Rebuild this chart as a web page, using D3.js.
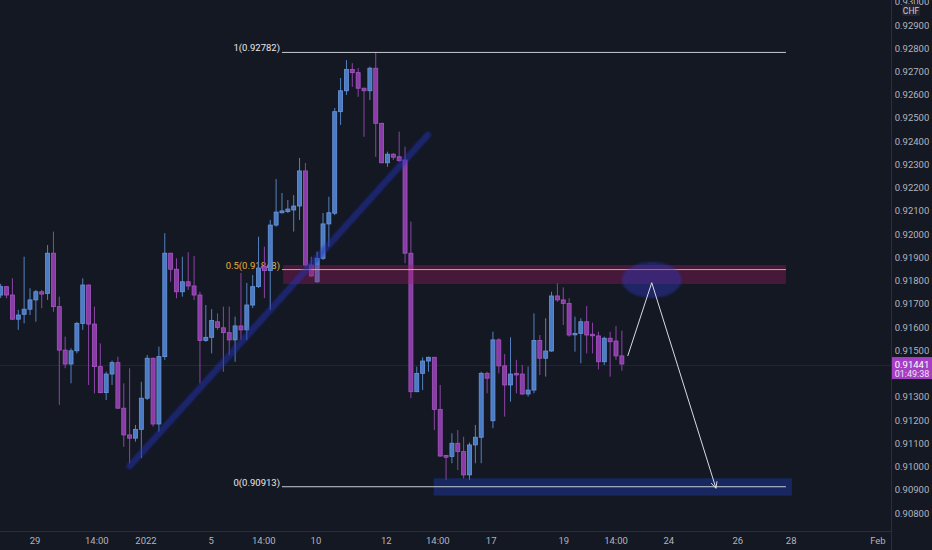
<!DOCTYPE html>
<html>
<head>
<meta charset="utf-8">
<script src="https://cdn.jsdelivr.net/npm/d3@7"></script>
<style>
  html, body { margin: 0; padding: 0; background: #141823; }
  svg { display: block; }
  text { font-family: Roboto, "Noto Sans", sans-serif; }
</style>
</head>
<body>
<div id="chart"></div>
<script>
// USDCHF 4h candles
var open = [0.91738,0.91774,0.91738,0.91634,0.91655,0.91677,0.91717,0.91752,0.91745,0.91918,
  0.91688,0.91501,0.91441,0.91498,0.91616,0.91781,0.91613,0.91430,0.91318,0.91398,
  0.91447,0.91251,0.91136,0.91122,0.91160,0.91294,0.91466,0.91183,0.91473,0.91918,
  0.91849,0.91752,0.91795,0.91777,0.91738,0.91542,0.91556,0.91623,0.91597,0.91576,
  0.91545,0.91605,0.91588,0.91695,0.91774,0.91860,0.91843,0.92039,0.92092,0.92097,
  0.92104,0.92121,0.92272,0.91867,0.91795,0.91896,0.92044,0.92090,0.92527,0.92617,
  0.92709,0.92695,0.92628,0.92617,0.92714,0.92477,0.92307,0.92344,0.92333,0.92319,
  0.91918,0.91322,0.91401,0.91454,0.91470,0.91246,0.91048,0.91043,0.91100,0.91064,
  0.90964,0.91093,0.91126,0.91401,0.91197,0.91545,0.91433,0.91351,0.91401,0.91398,
  0.91312,0.91329,0.91542,0.91466,0.91497,0.91734,0.91717,0.91702,0.91567,0.91573,
  0.91623,0.91569,0.91562,0.91451,0.91552,0.91540,0.91476];
var high = [0.91786,0.91776,0.91810,0.91674,0.91903,0.91767,0.91760,0.91760,0.91953,0.92011,
  0.91731,0.91559,0.91509,0.91623,0.91810,0.91783,0.91688,0.91530,0.91408,0.91456,
  0.91473,0.91358,0.91423,0.91179,0.91365,0.91480,0.91468,0.91516,0.92004,0.91920,
  0.91896,0.91903,0.91922,0.91906,0.91752,0.91695,0.91677,0.91659,0.91688,0.91688,
  0.91645,0.91833,0.91790,0.91824,0.91989,0.91946,0.92061,0.92237,0.92177,0.92147,
  0.92168,0.92328,0.92306,0.91903,0.91925,0.92091,0.92161,0.92543,0.92672,0.92749,
  0.92736,0.92715,0.92630,0.92721,0.92782,0.92479,0.92355,0.92349,0.92441,0.92376,
  0.92054,0.91430,0.91470,0.91473,0.91472,0.91351,0.91050,0.91143,0.91157,0.91128,
  0.91103,0.91179,0.91408,0.91408,0.91580,0.91552,0.91484,0.91556,0.91459,0.91437,
  0.91430,0.91659,0.91566,0.91638,0.91752,0.91789,0.91771,0.91724,0.91645,0.91638,
  0.91691,0.91619,0.91580,0.91559,0.91580,0.91605,0.91585];
var low = [0.91725,0.91724,0.91631,0.91588,0.91616,0.91652,0.91623,0.91681,0.91717,0.91666,
  0.91265,0.91423,0.91358,0.91487,0.91588,0.91351,0.91315,0.91315,0.91286,0.91351,
  0.91249,0.91085,0.91014,0.91107,0.91036,0.91286,0.91172,0.91150,0.91459,0.91795,
  0.91724,0.91731,0.91760,0.91717,0.91358,0.91537,0.91487,0.91588,0.91408,0.91480,
  0.91451,0.91545,0.91545,0.91682,0.91768,0.91725,0.91674,0.92032,0.92089,0.92091,
  0.92011,0.92061,0.91860,0.91817,0.91791,0.91889,0.91946,0.92082,0.92470,0.92599,
  0.92634,0.92591,0.92419,0.92577,0.92333,0.92305,0.92290,0.92319,0.92312,0.91875,
  0.91294,0.91320,0.91329,0.91408,0.91157,0.91043,0.90942,0.91014,0.90985,0.90949,
  0.90942,0.91014,0.91014,0.91315,0.91165,0.91401,0.91215,0.91279,0.91315,0.91308,
  0.91301,0.91315,0.91394,0.91387,0.91494,0.91709,0.91609,0.91559,0.91494,0.91444,
  0.91487,0.91487,0.91418,0.91437,0.91387,0.91459,0.91412];
var close = [0.91774,0.91738,0.91634,0.91652,0.91677,0.91717,0.91752,0.91742,0.91918,0.91688,
  0.91501,0.91441,0.91498,0.91616,0.91781,0.91613,0.91430,0.91318,0.91398,0.91447,
  0.91251,0.91136,0.91122,0.91160,0.91294,0.91466,0.91183,0.91473,0.91918,0.91849,
  0.91752,0.91795,0.91777,0.91738,0.91542,0.91556,0.91628,0.91598,0.91576,0.91545,
  0.91605,0.91588,0.91695,0.91774,0.91854,0.91843,0.92039,0.92095,0.92100,0.92108,
  0.92121,0.92272,0.91867,0.91820,0.91896,0.92044,0.92092,0.92527,0.92617,0.92709,
  0.92695,0.92628,0.92617,0.92714,0.92477,0.92307,0.92344,0.92331,0.92316,0.91918,
  0.91322,0.91401,0.91454,0.91470,0.91246,0.91045,0.91040,0.91100,0.91064,0.90964,
  0.91093,0.91126,0.91401,0.91380,0.91545,0.91433,0.91351,0.91398,0.91394,0.91312,
  0.91329,0.91542,0.91466,0.91497,0.91734,0.91717,0.91702,0.91566,0.91573,0.91623,
  0.91566,0.91563,0.91451,0.91552,0.91537,0.91476,0.91441];

// time axis labels and where they fall (in candle slots)
var timeLabels = ['29','14:00','2022','5','14:00','10','12','14:00','17','19','14:00','24','26','28','Feb'];
var timeSlots  = [5.85,16.4,24.8,35.9,44.9,53.8,65.8,74.6,83.7,96.1,105,114,125.8,134.9,149.7];

// price axis
var priceTicks = d3.range(0.908, 0.9305, 0.001);

// drawings: fib retracement, zones, trendline, projection
var fibLevels = [1, 0.5, 0];
var fibPrices = [0.92782, 0.918475, 0.90913];
var fibSlots = [48, 134];
var sellZone = {slots: [48.2, 134], prices: [0.918673, 0.917855]};
var buyZone = {slots: [73.9, 135], prices: [0.909494, 0.908747]};
var trendSlots = [22, 72.9];
var trendPrices = [0.91002, 0.92427];
var targetSlot = 111.1, targetPrice = 0.91803;
var pathSlots = [107, 111.1, 122.06];
var pathPrices = [0.914757, 0.917911, 0.909065];
var lastTime = '01:49:38';

const width = 932, height = 550,
    plotW = 891, plotH = 531;

var x = d3.scaleLinear().domain([0, 152]).range([0.7, 0.7 + 152 * 5.86]);
var y = d3.scaleLinear().domain([0.908, 0.929]).range([513, 25]);

var svg = d3.select('#chart').append('svg')
    .attr('width', width).attr('height', height);

var defs = svg.append('defs');
defs.append('filter').attr('id', 'soft')
  .append('feGaussianBlur').attr('stdDeviation', 1.2);
defs.append('clipPath').attr('id', 'clip')
  .append('rect').attr('width', plotW).attr('height', plotH);

svg.append('rect').attr('width', width).attr('height', height).attr('fill', '#141823');

var g = svg.append('g').attr('clip-path', 'url(#clip)');

var last = close[close.length - 1];

// last price line
g.append('line')
    .attr('x1', 0).attr('x2', plotW)
    .attr('y1', y(last) + 1.5).attr('y2', y(last) + 1.5)
    .attr('stroke', '#242834').attr('stroke-width', 1);

// fib labels (under candles)
var fibColors = ['#c9ccd4', '#f2a93b', '#c9ccd4'];
fibLevels.forEach(function(lv, i){
    g.append('text')
        .attr('x', x(fibSlots[0]) - 2).attr('y', y(fibPrices[i]) - 1)
        .attr('text-anchor', 'end')
        .attr('font-size', 9.5)
        .attr('fill', i == 1 ? '#e8b23c' : '#e6e8ec')
        .text(lv + '(' + d3.format('.5f')(fibPrices[i]) + ')');
});

// candles
var data = open.map(function(o, i){
    return {i: i, o: o, h: high[i], l: low[i], c: close[i]};
});
var candle = g.selectAll('g.candle').data(data).enter()
    .append('g').attr('class', 'candle');
candle.append('line')
    .attr('x1', function(d){ return x(d.i); })
    .attr('x2', function(d){ return x(d.i); })
    .attr('y1', function(d){ return y(d.h); })
    .attr('y2', function(d){ return y(d.l); })
    .attr('stroke', function(d){ return d.c >= d.o ? '#5580c0' : '#8c44a6'; })
    .attr('stroke-width', 1);
candle.append('rect')
    .attr('x', function(d){ return x(d.i) - 2; })
    .attr('width', 4)
    .attr('y', function(d){ return y(Math.max(d.o, d.c)); })
    .attr('height', function(d){ return Math.max(1.5, Math.abs(y(d.o) - y(d.c))); })
    .attr('fill', function(d){ return d.c >= d.o ? '#4a7bc4' : '#8a3ca6'; })
    .attr('stroke', function(d){ return d.c >= d.o ? '#6a96da' : '#a655c2'; })
    .attr('stroke-width', 0.8);

// zones
g.append('rect')
    .attr('x', x(sellZone.slots[0])).attr('width', x(sellZone.slots[1]) - x(sellZone.slots[0]))
    .attr('y', y(sellZone.prices[0])).attr('height', y(sellZone.prices[1]) - y(sellZone.prices[0]))
    .attr('fill', 'rgba(160,24,100,0.36)');
g.append('rect')
    .attr('x', x(buyZone.slots[0])).attr('width', x(buyZone.slots[1]) - x(buyZone.slots[0]))
    .attr('y', y(buyZone.prices[0])).attr('height', y(buyZone.prices[1]) - y(buyZone.prices[0]))
    .attr('fill', 'rgba(33,62,190,0.40)');

// fib lines
fibLevels.forEach(function(lv, i){
    g.append('line')
        .attr('x1', x(fibSlots[0])).attr('x2', x(fibSlots[1]))
        .attr('y1', y(fibPrices[i])).attr('y2', y(fibPrices[i]))
        .attr('stroke', fibColors[i]).attr('stroke-width', 1);
});

// trendline
g.append('line')
    .attr('x1', x(trendSlots[0])).attr('y1', y(trendPrices[0]))
    .attr('x2', x(trendSlots[1])).attr('y2', y(trendPrices[1]))
    .attr('stroke', 'rgba(36,52,185,0.5)').attr('stroke-width', 6.5)
    .attr('stroke-linecap', 'round')
    .attr('filter', 'url(#soft)');

// target ellipse
g.append('ellipse')
    .attr('cx', x(targetSlot)).attr('cy', y(targetPrice))
    .attr('rx', 30).attr('ry', 18)
    .attr('fill', 'rgba(48,58,190,0.42)')
    .attr('filter', 'url(#soft)');

// projection path with arrow
var pts = pathSlots.map(function(s, i){ return [x(s), y(pathPrices[i])]; });
g.append('path')
    .attr('d', d3.line()(pts))
    .attr('fill', 'none').attr('stroke', '#d8dbe2').attr('stroke-width', 1);
var end = pts[2], prev = pts[1];
var ang = Math.atan2(end[1] - prev[1], end[0] - prev[0]);
[-0.45, 0.45].forEach(function(da){
    g.append('line')
        .attr('x1', end[0]).attr('y1', end[1])
        .attr('x2', end[0] - 7 * Math.cos(ang + da))
        .attr('y2', end[1] - 7 * Math.sin(ang + da))
        .attr('stroke', '#d8dbe2').attr('stroke-width', 1);
});

// axes frame
svg.append('line').attr('x1', plotW + 0.5).attr('x2', plotW + 0.5)
    .attr('y1', 0).attr('y2', height).attr('stroke', '#2a2e39');
svg.append('line').attr('x1', 0).attr('x2', plotW)
    .attr('y1', plotH + 0.5).attr('y2', plotH + 0.5).attr('stroke', '#2a2e39');

// price axis labels
svg.selectAll('text.ptick').data(priceTicks).enter()
    .append('text').attr('class', 'ptick')
    .attr('x', 912).attr('y', function(d){ return y(d) + 3.5; })
    .attr('text-anchor', 'middle')
    .attr('font-size', 9.5)
    .attr('fill', '#b2b5be')
    .text(function(d){ return d3.format('.5f')(d); });

// currency tag
svg.append('rect').attr('x', 902).attr('y', 4).attr('width', 18).attr('height', 12)
    .attr('rx', 2).attr('fill', '#222633');
svg.append('text').attr('x', 911).attr('y', 13.5).attr('text-anchor', 'middle')
    .attr('font-size', 8.5).attr('fill', '#c9ccd4').text('CHF');

// last price tag
svg.append('rect').attr('x', plotW + 1).attr('y', y(last) - 7)
    .attr('width', width - plotW - 1).attr('height', 22).attr('fill', '#a43fc3');
svg.append('text').attr('x', 912).attr('y', y(last) + 3.5).attr('text-anchor', 'middle')
    .attr('font-size', 9.5).attr('fill', '#ffffff').text(d3.format('.5f')(last));
svg.append('text').attr('x', 912).attr('y', y(last) + 12.5).attr('text-anchor', 'middle')
    .attr('font-size', 9).attr('fill', '#f0e0f6').text(lastTime);

// time axis labels
svg.selectAll('text.ttick').data(timeLabels).enter()
    .append('text').attr('class', 'ttick')
    .attr('x', function(d, i){ return x(timeSlots[i]); })
    .attr('y', 544)
    .attr('text-anchor', 'middle')
    .attr('font-size', 9.5)
    .attr('fill', '#b2b5be')
    .text(function(d){ return d; });
</script>
</body>
</html>
